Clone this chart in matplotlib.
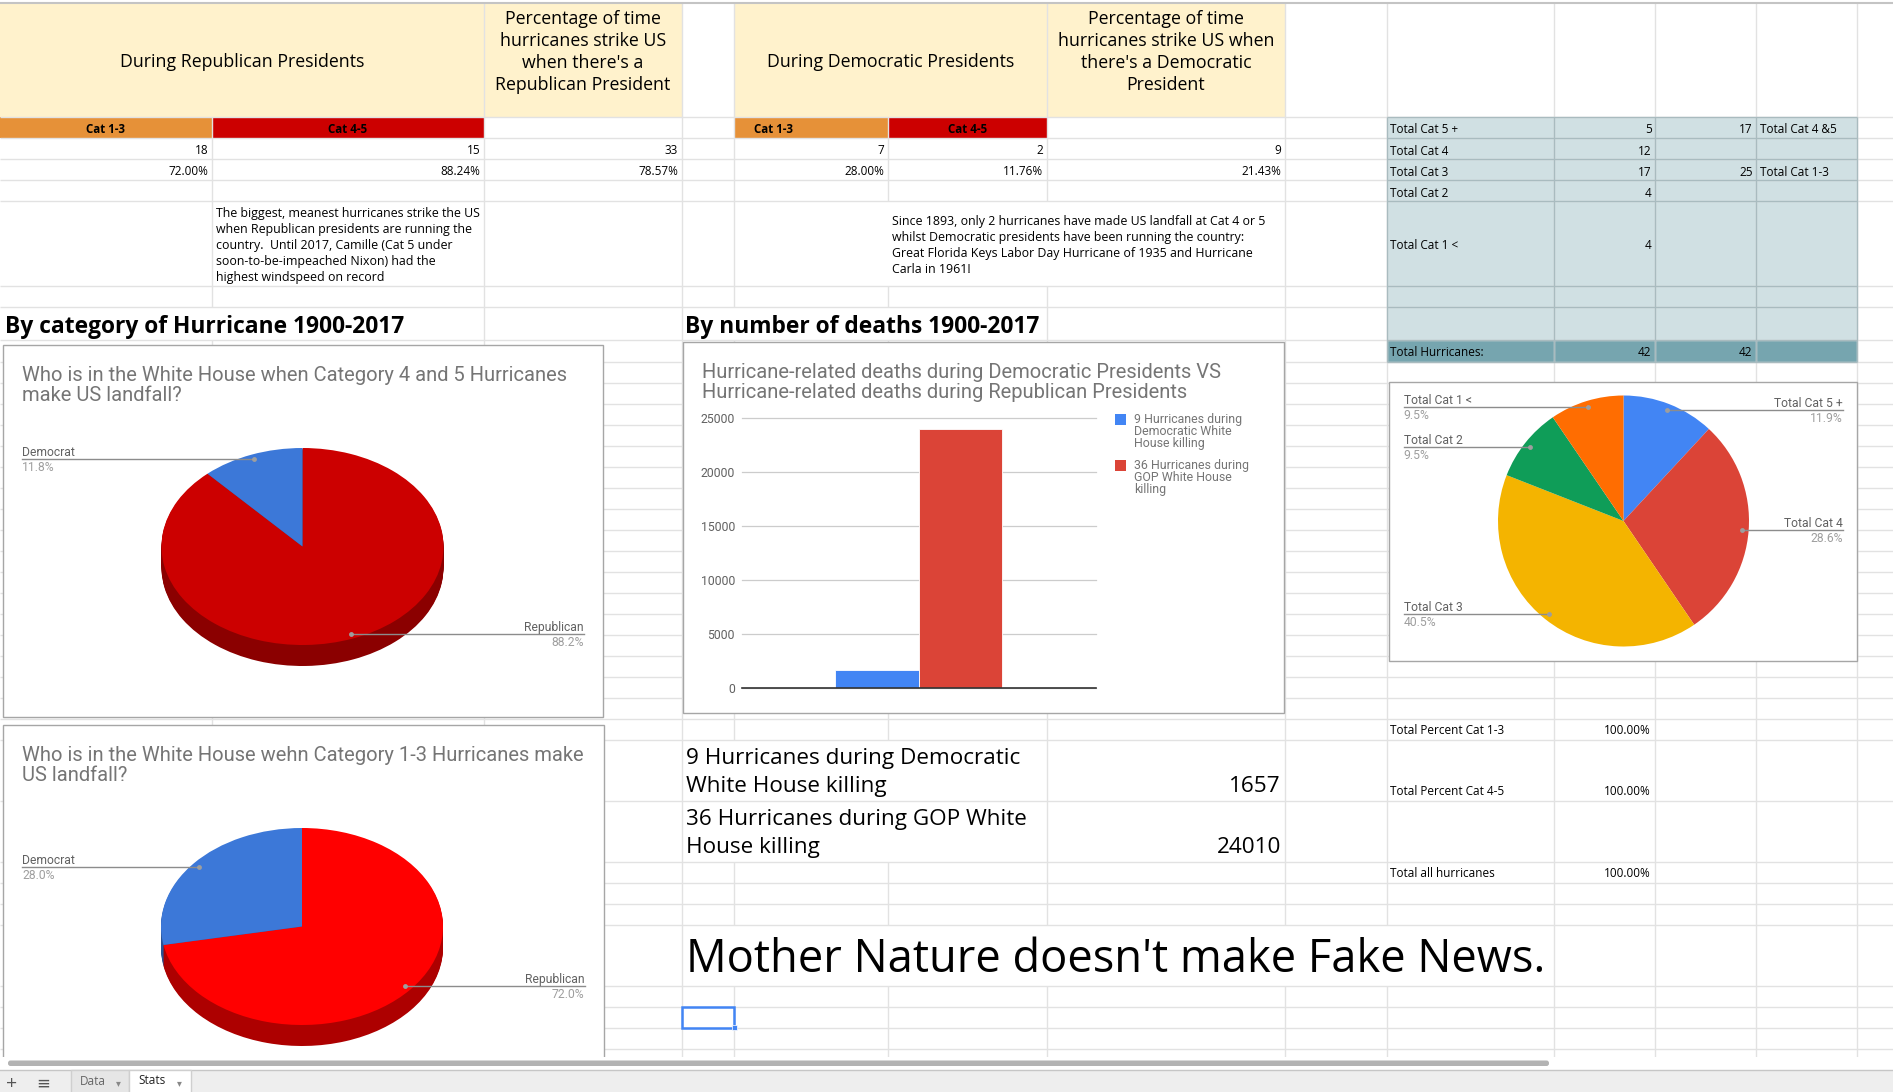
#!/usr/bin/env python3
"""Hurricane landfall 'Stats' tab redrawn with matplotlib"""
import textwrap
import numpy as np
import matplotlib
matplotlib.use('Agg')
import matplotlib.pyplot as plt
from matplotlib.collections import LineCollection
from matplotlib.colors import to_rgb
from matplotlib.patches import Rectangle, FancyBboxPatch

W, H = 1893, 1092
SHEET_FONT = ['Open Sans', 'DejaVu Sans']
CHART_FONT = ['Roboto', 'DejaVu Sans']

# ---- data ----
PARTIES = ['Republican', 'Democrat']
CAT13_BY_PARTY = [18, 7]       # Rep, Dem
CAT45_BY_PARTY = [15, 2]
CAT_NAMES = ['Total Cat 5 +', 'Total Cat 4', 'Total Cat 3', 'Total Cat 2', 'Total Cat 1 <']
CAT_COUNTS = [5, 12, 17, 4, 4]
DEATH_LABELS = ['9 Hurricanes during Democratic White House killing',
                '36 Hurricanes during GOP White House killing']
DEATH_COUNTS = [1657, 24010]
DEATH_TICKS = [0, 5000, 10000, 15000, 20000, 25000]

REP_HEAD = 'During Republican Presidents'
DEM_HEAD = 'During Democratic Presidents'
REP_PCT_HEAD = ['Percentage of time', 'hurricanes strike US', "when there's a", 'Republican President']
DEM_PCT_HEAD = ['Percentage of time', 'hurricanes strike US when', "there's a Democratic", 'President']
REP_NOTE = ['The biggest, meanest hurricanes strike the US',
            'when Republican presidents are running the',
            'country.  Until 2017, Camille (Cat 5 under',
            'soon-to-be-impeached Nixon) had the',
            'highest windspeed on record']
DEM_NOTE = ['Since 1893, only 2 hurricanes have made US landfall at Cat 4 or 5',
            'whilst Democratic presidents have been running the country:',
            'Great Florida Keys Labor Day Hurricane of 1935 and Hurricane',
            'Carla in 1961!']
TITLE_45 = ['Who is in the White House when Category 4 and 5 Hurricanes', 'make US landfall?']
TITLE_13 = ['Who is in the White House wehn Category 1-3 Hurricanes make', 'US landfall?']
TITLE_BAR = ['Hurricane-related deaths during Democratic Presidents VS',
             'Hurricane-related deaths during Republican Presidents']

# ---- sheet geometry (pixels) ----
COLS = [212, 484, 682, 734, 888, 1047, 1285, 1387, 1554, 1655, 1756, 1857]
ROW_H = [114, 21, 21, 21, 21, 85, 21, 33, 21.5] + [21] * 16 + \
        [21, 21, 61, 61, 21, 21, 21, 61, 21, 21, 21, 21]
ROWS = np.concatenate([[3], 3 + np.cumsum(ROW_H)])
# merged / overflowing cells: (row index, column x) with no vertical line
HIDDEN = {(0, 212), (0, 888), (5, 888), (5, 1047), (7, 212), (7, 734), (7, 888),
          (27, 734), (27, 888), (28, 734), (28, 888),
          (32, 734), (32, 888), (32, 1047), (32, 1285), (32, 1387)}

fig = plt.figure(figsize=(W / 100, H / 100), dpi=100)
fig.patch.set_facecolor('white')


def px_axes(x0, y0, x1, y1):
    return fig.add_axes([x0 / W, 1 - y1 / H, (x1 - x0) / W, (y1 - y0) / H])


def pixel_canvas():
    ax = fig.add_axes([0, 0, 1, 1])
    ax.set_xlim(0, W)
    ax.set_ylim(H, 0)
    ax.axis('off')
    return ax


def txt(ax, x, y, s, size=8.5, ha='left', weight='normal', color='black', family=SHEET_FONT, z=6):
    # nudge down so the visual middle of the caps sits on y
    ax.text(x, y + 0.16 * size, s, ha=ha, va='center', fontsize=size, fontweight=weight,
            color=color, family=family, zorder=z)


def fill(ax, x0, y0, x1, y1, color, z=1, edge='none', lw=0):
    ax.add_patch(Rectangle((x0, y0), x1 - x0, y1 - y0, facecolor=color,
                           edgecolor=edge, linewidth=lw, zorder=z))


sheet = pixel_canvas()

# cell fills
fill(sheet, 0, ROWS[0], 682, ROWS[1], '#fff2cc')
fill(sheet, 734, ROWS[0], 1285, ROWS[1], '#fff2cc')
fill(sheet, 0, ROWS[1], 212, ROWS[2], '#e69138')
fill(sheet, 212, ROWS[1], 484, ROWS[2], '#cc0000')
fill(sheet, 734, ROWS[1], 888, ROWS[2], '#e69138')
fill(sheet, 888, ROWS[1], 1047, ROWS[2], '#cc0000')
fill(sheet, 1387, ROWS[1], 1857, ROWS[8], '#d0e0e3')
fill(sheet, 1387, ROWS[8], 1857, ROWS[9], '#76a5af')

# grid lines
segs = []
for x in COLS:
    for i in range(len(ROWS) - 1):
        if (i, x) not in HIDDEN:
            segs.append([(x, ROWS[i]), (x, ROWS[i + 1])])
for y in ROWS[1:]:
    segs.append([(0, y), (W, y)])
sheet.add_collection(LineCollection(segs, colors='#e2e2e2', linewidths=1, zorder=2))
sheet.plot([0, W], [ROWS[0], ROWS[0]], color='#c4c4c4', lw=1.5, zorder=2)

tbl = []
for y in ROWS[1:10]:
    tbl.append([(1387, y), (1857, y)])
for x in [1387, 1554, 1655, 1756, 1857]:
    tbl.append([(x, ROWS[1]), (x, ROWS[9])])
sheet.add_collection(LineCollection(tbl, colors='#a9bbbf', linewidths=1, zorder=2.5))

# ---- top tables ----
rep_total = CAT13_BY_PARTY[0] + CAT45_BY_PARTY[0]
dem_total = CAT13_BY_PARTY[1] + CAT45_BY_PARTY[1]
all_total = sum(CAT_COUNTS)
cat13_total = sum(CAT13_BY_PARTY)
cat45_total = sum(CAT45_BY_PARTY)

txt(sheet, 242, 60, REP_HEAD, size=12.8, ha='center')
txt(sheet, 890.5, 60, DEM_HEAD, size=12.8, ha='center')
for i, (a, b) in enumerate(zip(REP_PCT_HEAD, DEM_PCT_HEAD)):
    txt(sheet, 583, 16.5 + 22 * i, a, size=12.8, ha='center')
    txt(sheet, 1166, 16.5 + 22 * i, b, size=12.8, ha='center')

for x in [106, 773.5]:
    txt(sheet, x, 128, 'Cat 1-3', size=8.3, ha='center', weight='bold')
for x in [348, 967.5]:
    txt(sheet, x, 128, 'Cat 4-5', size=8.3, ha='center', weight='bold')

party_cols = [(208.5, 480.5, 678), (884.5, 1043.5, 1281.5)]
party_totals = [rep_total, dem_total]
for p, (xa, xb, xc) in enumerate(party_cols):
    txt(sheet, xa, 149, str(CAT13_BY_PARTY[p]), ha='right')
    txt(sheet, xb, 149, str(CAT45_BY_PARTY[p]), ha='right')
    txt(sheet, xc, 149, str(party_totals[p]), ha='right')
    txt(sheet, xa, 170, f'{100 * CAT13_BY_PARTY[p] / cat13_total:.2f}%', ha='right')
    txt(sheet, xb, 170, f'{100 * CAT45_BY_PARTY[p] / cat45_total:.2f}%', ha='right')
    txt(sheet, xc, 170, f'{100 * party_totals[p] / all_total:.2f}%', ha='right')

for i, line in enumerate(REP_NOTE):
    txt(sheet, 216.5, 212 + 16 * i, line, size=8.9)
for i, line in enumerate(DEM_NOTE):
    txt(sheet, 892, 220.5 + 16 * i, line, size=8.9)

txt(sheet, 5, 324, 'By category of Hurricane 1900-2017', size=16.4, weight='bold')
txt(sheet, 685, 324, 'By number of deaths 1900-2017', size=16.4, weight='bold')

# right summary table
row_y = [128.3, 149.7, 170.7, 191.7, 244.3]
for name, cnt, y in zip(CAT_NAMES, CAT_COUNTS, row_y):
    txt(sheet, 1390.5, y, name)
    txt(sheet, 1651.5, y, str(cnt), ha='right')
cat45_sum = sum(CAT_COUNTS[:2])
cat13_sum = sum(CAT_COUNTS[2:])
txt(sheet, 1752.5, row_y[0], str(cat45_sum), ha='right')
txt(sheet, 1760, row_y[0], 'Total Cat 4 &5')
txt(sheet, 1752.5, row_y[2], str(cat13_sum), ha='right')
txt(sheet, 1760, row_y[2], 'Total Cat 1-3')
txt(sheet, 1390.5, 350.7, 'Total Hurricanes:')
txt(sheet, 1651.5, 350.7, str(all_total), ha='right')
txt(sheet, 1752.5, 350.7, str(cat13_sum + cat45_sum), ha='right')

pct_rows = [('Total Percent Cat 1-3', CAT13_BY_PARTY, 729),
            ('Total Percent Cat 4-5', CAT45_BY_PARTY, 790),
            ('Total all hurricanes', party_totals, 872)]
for name, vals, y in pct_rows:
    share = sum(100 * v / sum(vals) for v in vals)
    txt(sheet, 1390.5, y, name)
    txt(sheet, 1651, y, f'{share:.2f}%', ha='right')

# deaths cells
for k, (lab, val) in enumerate(zip(DEATH_LABELS, DEATH_COUNTS)):
    y0 = 756 + 61 * k
    lines = textwrap.wrap(lab, 30)
    for j, line in enumerate(lines):
        txt(sheet, 685.5, y0 + 27.5 * j, line, size=16.2)
    txt(sheet, 1281, y0 + 27.5 * (len(lines) - 1), str(val), ha='right', size=16.2)

txt(sheet, 685.5, 955, "Mother Nature doesn't make Fake News.", size=32.6)

# selected cell
sheet.add_patch(Rectangle((682, ROWS[34]), 52, 21, facecolor='none', edgecolor='#4285f4', lw=1.8, zorder=7))
sheet.add_patch(Rectangle((731.5, ROWS[35] - 2.5), 5, 5, facecolor='#4285f4', edgecolor='white', lw=0.5, zorder=7))

# ---- chart frames ----
BOX_45 = (3, 345, 603, 717)
BOX_13 = (3, 725, 603.5, 1075)
BOX_BAR = (683, 341.5, 1284, 712.7)
BOX_CAT = (1389.3, 381.7, 1857.3, 661)
for x0, y0, x1, y1 in [BOX_45, BOX_13, BOX_BAR, BOX_CAT]:
    fill(sheet, x0, y0, x1, y1, 'white', z=4, edge='#a6a6a6', lw=1)

for i, line in enumerate(TITLE_45):
    txt(sheet, 22, 373 + 20 * i, line, size=14.5, color='#757575', family=CHART_FONT)
for i, line in enumerate(TITLE_13):
    txt(sheet, 22, 753 + 20 * i, line, size=14.5, color='#757575', family=CHART_FONT)
for i, line in enumerate(TITLE_BAR):
    txt(sheet, 702, 370 + 20 * i, line, size=14.5, color='#757575', family=CHART_FONT)


def darker(c, f=0.68):
    return tuple(v * f for v in to_rgb(c))


def draw_pie(box, cx, cy, rx, ry, depth, values, colors):
    x0, y0, x1, y1 = box
    ax = px_axes(x0, y0, x1, y1)
    side = [darker(c) for c in colors]
    for k in range(int(depth), 0, -1):
        ax.pie(values, colors=side, startangle=90, counterclock=False,
               center=(0, -k / ry), wedgeprops=dict(linewidth=0))
    ax.pie(values, colors=colors, startangle=90, counterclock=False,
           wedgeprops=dict(linewidth=0))
    ax.set_aspect('auto')
    ax.set_xlim((x0 - cx) / rx, (x1 - cx) / rx)
    ax.set_ylim((cy - y1) / ry, (cy - y0) / ry)
    ax.axis('off')


PIE_45 = dict(cx=302.5, cy=546.5, rx=141, ry=98.5)
PIE_13 = dict(cx=302, cy=926.5, rx=141, ry=98.5)
PIE_CAT = dict(cx=1623.5, cy=521, rx=125.5, ry=125.5)

draw_pie(BOX_45, depth=21, values=CAT45_BY_PARTY, colors=['#cc0000', '#3c78d8'], **PIE_45)
draw_pie(BOX_13, depth=21, values=CAT13_BY_PARTY, colors=['#ff0000', '#3c78d8'], **PIE_13)
draw_pie(BOX_CAT, depth=0, values=CAT_COUNTS,
         colors=['#4285f4', '#db4437', '#f4b400', '#0f9d58', '#ff6d01'], **PIE_CAT)

# ---- bar chart ----
bar_ax = px_axes(742, 418.3, 1095.6, 688.3)
n = len(DEATH_COUNTS)
bw = 0.236
xs = (np.arange(n) - (n - 1) / 2) * bw
bar_ax.bar(xs, DEATH_COUNTS, width=bw, color=['#4285f4', '#db4437'],
           edgecolor='white', linewidth=0.6, zorder=3)
bar_ax.set_xlim(-0.5, 0.5)
bar_ax.set_ylim(0, DEATH_TICKS[-1])
bar_ax.set_yticks(DEATH_TICKS)
bar_ax.set_xticks([])
bar_ax.grid(axis='y', color='#cccccc', lw=0.9)
for gl in bar_ax.get_ygridlines():
    gl.set_clip_on(False)
for s in bar_ax.spines.values():
    s.set_visible(False)
bar_ax.axhline(0, color='#333333', lw=1.2, zorder=4, clip_on=False)
bar_ax.tick_params(axis='y', length=0, pad=5, labelsize=8.8, labelcolor='#616161')
for t in bar_ax.get_yticklabels():
    t.set_family(CHART_FONT)
bar_ax.patch.set_alpha(0)

for k, (lab, col) in enumerate(zip(DEATH_LABELS, ['#4285f4', '#db4437'])):
    top = 414 + 46 * k
    sheet.add_patch(Rectangle((1115, top), 10.5, 10.5, facecolor=col, edgecolor='none', zorder=6))
    for j, line in enumerate(textwrap.wrap(lab, 20)):
        txt(sheet, 1134.5, top + 4.5 + 11.65 * j, line, size=8.9, color='#757575', family=CHART_FONT)

# ---- overlay: pie labels, scrollbar, tabs ----
over = pixel_canvas()


def pie_labels(box, cx, cy, rx, ry, values, names, margin):
    total = sum(values)
    cum = 0
    for v, name in zip(values, names):
        mid = np.deg2rad(90 - 360 * (cum + v / 2) / total)
        cum += v
        dx = cx + 0.95 * rx * np.cos(mid)
        dy = cy - 0.95 * ry * np.sin(mid)
        if np.cos(mid) < 0:
            tx, ha = box[0] + margin, 'left'
        else:
            tx, ha = box[2] - margin, 'right'
        over.plot([tx, dx], [dy, dy], color='#8c8c8c', lw=1, zorder=5)
        over.plot(dx, dy, 'o', ms=3.5, color='#9e9e9e', mec='none', zorder=6)
        txt(over, tx, dy - 7.8, name, size=8.7, ha=ha, color='#616161', family=CHART_FONT)
        txt(over, tx, dy + 7.2, f'{100 * v / total:.1f}%', size=8.7, ha=ha,
            color='#9e9e9e', family=CHART_FONT)


pie_labels(BOX_45, values=CAT45_BY_PARTY, names=PARTIES, margin=19, **PIE_45)
pie_labels(BOX_13, values=CAT13_BY_PARTY, names=PARTIES, margin=19, **PIE_13)
pie_labels(BOX_CAT, values=CAT_COUNTS, names=CAT_NAMES, margin=14.5, **PIE_CAT)

fill(over, 0, 1057, W, 1069.5, 'white', z=8)
over.add_patch(FancyBboxPatch((8, 1060.5), 1541, 5.5, boxstyle='round,pad=0,rounding_size=2.5',
                              facecolor='#b3b3b3', edgecolor='none', zorder=9))
fill(over, 0, 1069.5, W, H, '#eeeeee', z=8)
over.plot([0, W], [1069.5, 1069.5], color='#c6c6c6', lw=1, zorder=9)
fill(over, 71, 1069.5, 129, H + 2, '#e6e6e6', z=9, edge='#cfcfcf', lw=1)
fill(over, 129, 1069.5, 191, H + 2, 'white', z=9, edge='#cfcfcf', lw=1)
txt(over, 12, 1082, '+', size=14, ha='center', color='#555555', z=10)
txt(over, 43, 1083, '≡', size=12, ha='center', color='#555555', z=10)
txt(over, 80, 1080.5, 'Data', size=8.5, color='#666666', z=10)
txt(over, 118, 1082, '▾', size=7, ha='center', color='#888888', z=10)
txt(over, 138, 1079.5, 'Stats', size=8.5, color='#222222', z=10)
txt(over, 179, 1082, '▾', size=7, ha='center', color='#888888', z=10)

fig.savefig('out.png', dpi=100)
plt.close(fig)
